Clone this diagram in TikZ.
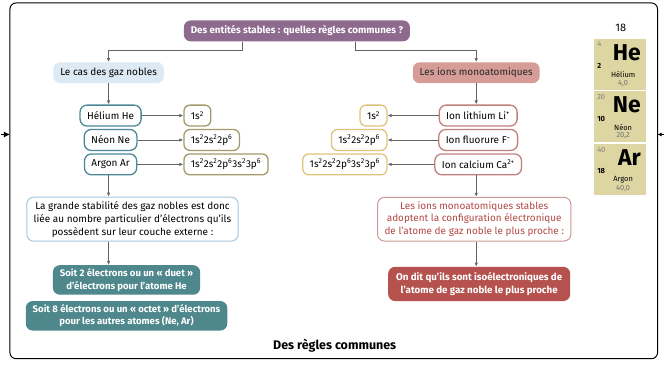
\documentclass[tikz,border=0pt]{standalone}
\usepackage{fontspec}
\setmainfont{Fira Sans}
\usetikzlibrary{arrows.meta,positioning}

\definecolor{titlepurple}{RGB}{142,107,142}
\definecolor{nobleblue}{RGB}{221,234,243}
\definecolor{noblebord}{RGB}{165,198,220}
\definecolor{tealbord}{RGB}{74,136,150}
\definecolor{tealfill}{RGB}{78,135,140}
\definecolor{olivebord}{RGB}{163,153,105}
\definecolor{goldbord}{RGB}{222,196,122}
\definecolor{ionpink}{RGB}{214,156,151}
\definecolor{ionbord}{RGB}{192,128,124}
\definecolor{ionred}{RGB}{181,82,78}
\definecolor{iontext}{RGB}{178,72,68}
\definecolor{cellkhaki}{RGB}{222,214,162}
\definecolor{arrowgray}{RGB}{100,100,100}

\begin{document}
\begin{tikzpicture}[
                x=1pt, y=-1pt,
                font=\fontsize{10}{13}\selectfont,
                node distance=24.5pt,
                block/.style={
                    rectangle,
                    align=center,
                    rounded corners=7pt,
                    minimum height=21pt,
                    inner xsep=7pt,
                    inner ysep=3pt
                },
                title/.style={block, fill=titlepurple, text=white, font=\fontsize{9.8}{12}\selectfont\bfseries},
                noble/.style={block, fill=nobleblue},
                ions/.style={block, fill=ionpink, text=black!85},
                element/.style={block, draw=tealbord, line width=1.3pt, fill=white},
                ion/.style={block, draw=ionbord, line width=1.3pt, fill=white},
                config/.style={block, draw=olivebord, line width=1.3pt, rounded corners=6pt, fill=white},
                iconfig/.style={block, draw=goldbord, line width=1.3pt, rounded corners=6pt, fill=white},
                textbox/.style={block, draw=noblebord, line width=1pt, fill=white, inner ysep=4pt},
                itextbox/.style={block, draw=ionbord!80, line width=1pt, fill=white, text=iontext, inner ysep=4pt},
                rule/.style={block, fill=tealfill, text=white, font=\fontsize{9.6}{12.5}\selectfont\bfseries, inner ysep=3.5pt},
                irule/.style={block, fill=ionred, text=white, font=\fontsize{9.8}{13}\selectfont\bfseries, inner xsep=8pt, inner ysep=5.5pt},
                cell/.style={rectangle, fill=cellkhaki, minimum width=52pt, minimum height=51pt},
                line/.style={
                    draw=arrowgray,
                    line width=0.9pt,
                    -{Latex[length=4pt,width=3.5pt]}
                }]

                \draw [line width=1pt, rounded corners=6pt] (10,3) rectangle (660,360);
                \coordinate (leftin) at (1,135);
                \coordinate (leftedge) at (10,135);
                \coordinate (rightout) at (666,135);
                \coordinate (rightedge) at (660,135);
                \draw [-{Latex[length=6pt,width=6pt]}, line width=1pt] (leftin) -- (leftedge);
                \draw [-{Latex[length=4pt,width=4pt]}, line width=1pt] (rightout) -- (rightedge);

                \node [title] (frage) at (298,31) {Des entités stables : quelles règles communes ?};
                \node [noble] (gaz) at (109,73) {Le cas des gaz nobles};
                \node [ions] (ionen) at (478,73) {Les ions monoatomiques};

                \node [element] (helium) at (111,116) {Hélium He};
                \node [element, below of=helium] (neon) {Néon Ne};
                \node [element, below of=neon] (argon) {Argon Ar};

                \node [config, anchor=west] (cfg_he) at (184,116) {1s\textsuperscript{2}};
                \node [config, anchor=west] (cfg_ne) at (184,140.5) {1s\textsuperscript{2}2s\textsuperscript{2}2p\textsuperscript{6}};
                \node [config, anchor=west] (cfg_ar) at (184,165) {1s\textsuperscript{2}2s\textsuperscript{2}2p\textsuperscript{6}3s\textsuperscript{2}3p\textsuperscript{6}};

                \node [ion] (lithium) at (480,116) {Ion lithium Li\textsuperscript{+}};
                \node [ion, below of=lithium] (fluorure) {Ion fluorure F\textsuperscript{−}};
                \node [ion, below of=fluorure] (calcium) {Ion calcium Ca\textsuperscript{2+}};

                \node [iconfig, anchor=east] (cfg_li) at (389,116) {1s\textsuperscript{2}};
                \node [iconfig, anchor=east] (cfg_f) at (389,140.5) {1s\textsuperscript{2}2s\textsuperscript{2}2p\textsuperscript{6}};
                \node [iconfig, anchor=east] (cfg_ca) at (389,165) {1s\textsuperscript{2}2s\textsuperscript{2}2p\textsuperscript{6}3s\textsuperscript{2}3p\textsuperscript{6}};

                \node [textbox] (stabilite) at (133,220) {La grande stabilité des gaz nobles est donc\\liée au nombre particulier d’électrons qu’ils\\possèdent sur leur couche externe :};
                \node [rule] (duet) at (127,281) {Soit 2 électrons ou un « duet »\\d’électrons pour l’atome He};
                \node [rule] (octet) at (127,317) {Soit 8 électrons ou un « octet » d’électrons\\pour les autres atomes (Ne, Ar)};

                \node [itextbox] (adoptent) at (476,220) {Les ions monoatomiques stables\\adoptent la configuration électronique\\de l’atome de gaz noble le plus proche :};
                \node [irule] (iso) at (481,285) {On dit qu’ils sont isoélectroniques de\\l’atome de gaz noble le plus proche};

                \node [font=\fontsize{12.5}{15}\selectfont\bfseries] (regles) at (336,347) {Des règles communes};

                \node [font=\fontsize{11}{13}\selectfont] (groupe) at (623,28) {18};
                \foreach \sym/\za/\zb/\name/\masse/\ypos in {He/4/2/Hélium/{4,0}/64.5, Ne/20/10/Néon/{20,2}/117, Ar/40/18/Argon/{40,0}/170} {
                    \node [cell] (cell\sym) at (622.5,\ypos) {};
                    \node [font=\fontsize{23}{25}\selectfont\bfseries, anchor=north east] (sym\sym) at ([shift={(-2pt,-2pt)}]cell\sym.north east) {\sym};
                    \node [font=\fontsize{7.5}{8}\selectfont, text=black!50, anchor=north west, inner sep=1pt] (za\sym) at ([shift={(2pt,-2pt)}]cell\sym.north west) {\za};
                    \node [font=\fontsize{7.5}{8}\selectfont\bfseries, anchor=west, inner sep=1pt] (zb\sym) at ([shift={(2pt,-2pt)}]cell\sym.west) {\zb};
                    \node [font=\fontsize{7.5}{8}\selectfont, anchor=south, inner sep=0pt] (mass\sym) at ([shift={(3pt,3pt)}]cell\sym.south) {\color{black!55}\masse};
                    \node [font=\fontsize{7.5}{8}\selectfont, anchor=south, inner sep=0pt] (name\sym) at ([yshift=2pt]mass\sym.north) {\name};
                }

                \draw [line] ([xshift=-55pt]frage.south) -- ++(0,-9pt) -| (gaz.north);
                \draw [line] ([xshift=59pt]frage.south) -- ++(0,-9pt) -| (ionen.north);

                \draw [line] (gaz.south) -- (gaz.south |- helium.north);
                \draw [line] (helium) -- (cfg_he);
                \draw [line] (neon) -- (cfg_ne);
                \draw [line] (argon) -- (cfg_ar);
                \draw [line] ([xshift=-2pt]argon.south) -- ([xshift=-2pt]argon.south |- stabilite.north);
                \draw [line] ([xshift=-2pt]argon.south |- stabilite.south) -- ([xshift=-2pt]argon.south |- duet.north);

                \draw [line] (ionen.south) -- (ionen.south |- lithium.north);
                \draw [line] (lithium) -- (cfg_li);
                \draw [line] (fluorure) -- (cfg_f);
                \draw [line] (calcium) -- (cfg_ca);
                \draw [line] (ionen.south |- calcium.south) -- (ionen.south |- adoptent.north);
                \draw [line] (ionen.south |- adoptent.south) -- (ionen.south |- iso.north);

                \useasboundingbox (0,0) rectangle (664,366);
            \end{tikzpicture}
\end{document}
